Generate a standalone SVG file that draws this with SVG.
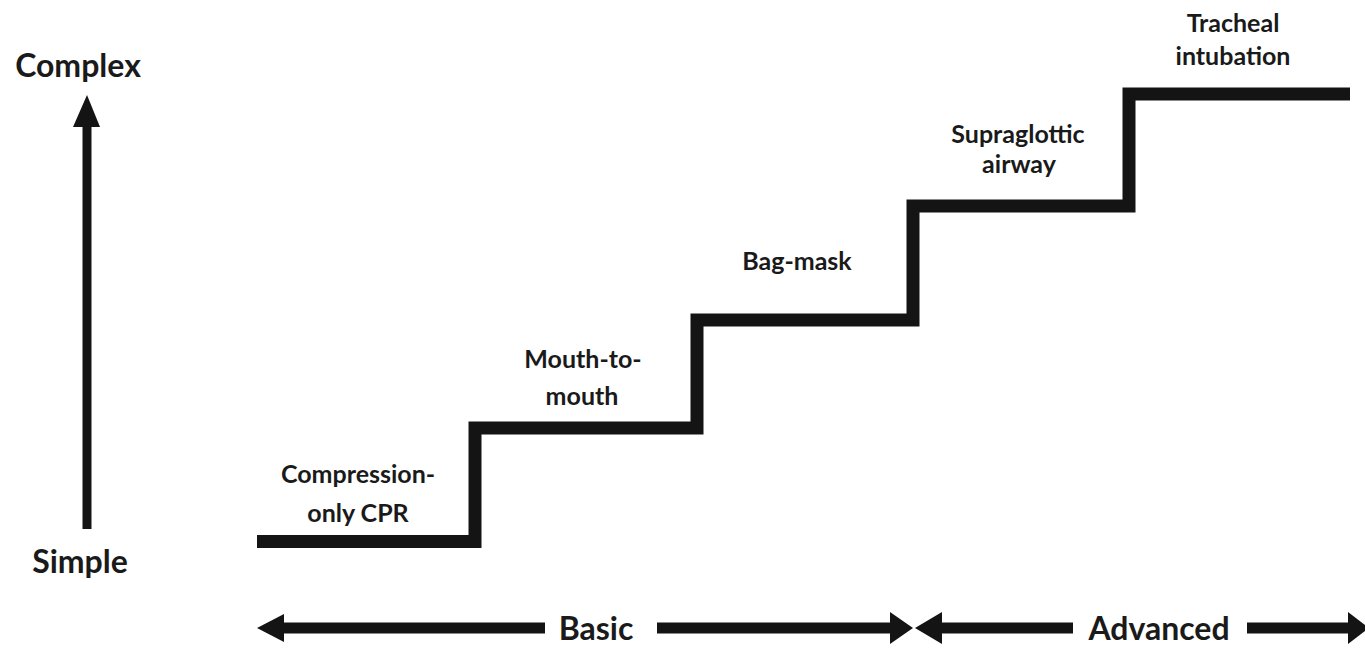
<svg xmlns="http://www.w3.org/2000/svg" width="1365" height="649" viewBox="0 0 1365 649">
<style>
.t{font-family:Lato,"Open Sans","Liberation Sans",sans-serif;font-weight:bold;fill:#1a1a1a;text-anchor:middle}
.ax{font-size:32px}
.st{font-size:25px}
.ln{stroke:#141414;fill:none;stroke-linejoin:miter;stroke-linecap:butt}
.hd{fill:#141414}
</style>
<rect width="1365" height="649" fill="#fff"/>
<g id="connectors">
<path class="ln" stroke-width="13" d="M257,541.5 H475 V428 H697 V320 H913 V206 H1129 V94 H1350"/>
<line class="ln" stroke-width="9" x1="87" y1="529" x2="87" y2="124"/>
<polygon class="hd" points="87,95 73,127 100,127"/>
<line class="ln" stroke-width="11" x1="280" y1="628" x2="545" y2="628"/>
<polygon class="hd" points="257,628 284,614 284,642"/>
<line class="ln" stroke-width="11" x1="657" y1="628" x2="892" y2="628"/>
<polygon class="hd" points="913,628 890,612 890,644"/>
<line class="ln" stroke-width="11" x1="940" y1="628" x2="1073" y2="628"/>
<polygon class="hd" points="915,628 942,612 942,644"/>
<line class="ln" stroke-width="11" x1="1247" y1="628" x2="1350" y2="628"/>
<polygon class="hd" points="1369,628 1348,612 1348,644"/>
</g>
<g id="axis-complex"><text class="t ax" x="78" y="77">Complex</text></g>
<g id="axis-simple"><text class="t ax" x="80" y="573">Simple</text></g>
<g id="step-cpr"><text class="t st" x="358" y="483">Compression-</text><text class="t st" x="358" y="522">only CPR</text></g>
<g id="step-mouth"><text class="t st" x="583" y="368">Mouth-to-</text><text class="t st" x="582" y="405">mouth</text></g>
<g id="step-bag"><text class="t st" x="797" y="270">Bag-mask</text></g>
<g id="step-supra"><text class="t st" x="1018" y="143">Supraglottic</text><text class="t st" x="1019" y="173">airway</text></g>
<g id="step-tracheal"><text class="t st" x="1233" y="32">Tracheal</text><text class="t st" x="1233" y="65">intubation</text></g>
<g id="label-basic"><text class="t ax" x="596" y="640">Basic</text></g>
<g id="label-advanced"><text class="t ax" x="1159" y="640">Advanced</text></g>
</svg>
